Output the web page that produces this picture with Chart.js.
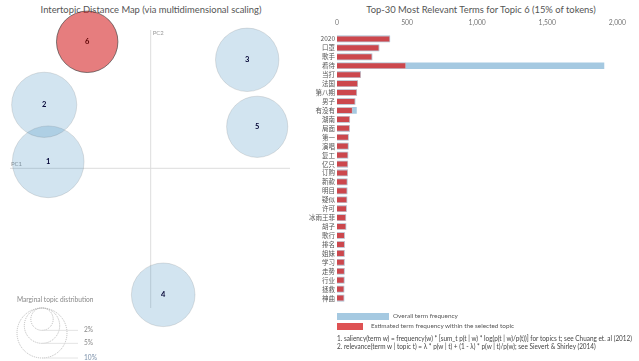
<!DOCTYPE html>
<html>
<head>
<meta charset="utf-8">
<script src="https://cdn.jsdelivr.net/npm/chart.js@4"></script>
<style>
  body { margin: 0; width: 639px; height: 361px; background: #fff; position: relative; overflow: hidden;
         font-family: Lato, "Noto Sans CJK SC", sans-serif; color: #555; }
  canvas { position: absolute; }
  #mdsCanvas { left: 0; top: 0; }
  #barCanvas { left: 290px; top: 0; }
  .title { position: absolute; top: 4px; font-size: 9.4px; color: #555; white-space: nowrap; transform: translateX(-50%); }
  .key { position: absolute; left: 337px; height: 7px; }
  .keytext { position: absolute; font-size: 6.4px; color: #555; white-space: nowrap; }
  .note { position: absolute; left: 337px; font-size: 6.6px; color: #444; white-space: nowrap; transform-origin: 0 0; }
</style>
</head>
<body>
<div class="title" style="left:151px">Intertopic Distance Map (via multidimensional scaling)</div>
<div class="title" style="left:481px">Top-30 Most Relevant Terms for Topic 6 (15% of tokens)</div>
<canvas id="mdsCanvas" width="320" height="361"></canvas>
<canvas id="barCanvas" width="349" height="312"></canvas>
<div class="key" style="top:313px;width:52px;background:rgba(31,119,180,0.4)"></div>
<div class="keytext" style="left:393px;top:312px">Overall term frequency</div>
<div class="key" style="top:323px;width:26px;background:rgba(214,39,40,0.8)"></div>
<div class="keytext" style="left:371px;top:322px">Estimated term frequency within the selected topic</div>
<div class="note" id="note1" style="top:334px">1. saliency(term w) = frequency(w) * [sum_t p(t | w) * log(p(t | w)/p(t))] for topics t; see Chuang et. al (2012)</div>
<div class="note" id="note2" style="top:342px">2. relevance(term w | topic t) = λ * p(w | t) + (1 - λ) * p(w | t)/p(w); see Sievert &amp; Shirley (2014)</div>
<script>
// topics on the intertopic distance map
var topicIds = ['1', '2', '3', '4', '5', '6'];
var topicPC1 = [-0.205, -0.213, 0.193, 0.025, 0.213, -0.127];
var topicPC2 = [0.013, 0.127, 0.217, -0.253, 0.083, 0.253];
var topicShare = [20.6, 17.0, 16.1, 16.2, 15.0, 15.1]; // % of tokens
var selectedTopic = '6';
var legendShares = [2, 5, 10];

// top-30 terms for topic 6
var terms = ['2020', '口罩', '歌手', '看待', '当打', '法国', '第八期', '男子', '有没有', '湖南',
  '局面', '第一', '演唱', '复工', '亿只', '订购', '新款', '明目', '疑似', '许可',
  '冰雨王菲', '胡子', '歌行', '排名', '姐妹', '学习', '走势', '行业', '拯救', '神曲'];
var overallFreq = [379, 302, 252, 1907, 171, 150, 143, 131, 141, 93,
  92, 84, 83, 80, 79, 78, 75, 74, 73, 70,
  65, 66, 56, 56, 55, 55, 55, 54, 52, 52];
var topicFreq = [379, 302, 252, 493, 171, 150, 143, 131, 112, 93,
  92, 84, 83, 80, 79, 78, 75, 74, 73, 70,
  65, 66, 56, 56, 55, 55, 55, 54, 52, 52];
var xTicks = [0, 500, 1000, 1500, 2000];

// squeeze the footnotes so line 1 is 295px wide, like the original
var note1 = document.getElementById('note1');
var squeeze = 295 / note1.getBoundingClientRect().width;
['note1', 'note2'].forEach(function(id) {
    document.getElementById(id).style.transform = 'scaleX(' + squeeze + ')';
});

// radius in px for a topic share, 10% -> 25px
function shareRadius(p) {
    return 25 * Math.sqrt(p / 10);
}

var mdsPlugin = {
    id: 'mdsDecor',
    beforeDatasetsDraw: function(chart) {
        var ctx = chart.ctx;
        var x = chart.scales.x, y = chart.scales.y;
        var x0 = x.getPixelForValue(0), y0 = y.getPixelForValue(0);
        ctx.save();
        ctx.strokeStyle = '#ddd';
        ctx.lineWidth = 1;
        ctx.beginPath();
        ctx.moveTo(x0, chart.chartArea.top);
        ctx.lineTo(x0, chart.chartArea.bottom);
        ctx.moveTo(chart.chartArea.left, y0);
        ctx.lineTo(chart.chartArea.right, y0);
        ctx.stroke();
        ctx.fillStyle = '#999';
        ctx.font = '6px Lato';
        ctx.textBaseline = 'top';
        ctx.fillText('PC2', x0 + 2, chart.chartArea.top + 0);
        ctx.textBaseline = 'bottom';
        ctx.fillText('PC1', chart.chartArea.left + 1, y0 - 1);
        ctx.restore();
    },
    afterDatasetsDraw: function(chart) {
        var ctx = chart.ctx;
        var meta = chart.getDatasetMeta(0);
        ctx.save();
        ctx.font = 'bold 7.5px Lato';
        ctx.textAlign = 'center';
        ctx.textBaseline = 'middle';
        meta.data.forEach(function(pt, i) {
            ctx.fillStyle = topicIds[i] === selectedTopic ? '#5a0000' : '#000033';
            ctx.fillText(topicIds[i], pt.x, pt.y);
        });

        // marginal topic distribution key
        var maxR = shareRadius(legendShares[legendShares.length - 1]);
        var cx = 42, top = 308;
        ctx.fillStyle = '#888';
        ctx.font = '6.6px Lato';
        ctx.textAlign = 'left';
        ctx.textBaseline = 'alphabetic';
        ctx.fillText('Marginal topic distribution', 17, 302);
        ctx.setLineDash([1, 1]);
        legendShares.forEach(function(p) {
            var r = shareRadius(p);
            ctx.strokeStyle = '#aaa';
            ctx.beginPath();
            ctx.arc(cx, top + r, r, 0, Math.PI * 2);
            ctx.stroke();
        });
        ctx.setLineDash([]);
        legendShares.forEach(function(p) {
            var r = shareRadius(p);
            var ly = top + 2 * r;
            ctx.strokeStyle = '#ddd';
            ctx.beginPath();
            ctx.moveTo(cx, ly);
            ctx.lineTo(cx + maxR + 11, ly);
            ctx.stroke();
            ctx.fillStyle = p === 10 ? '#7a8fa8' : '#888';
            ctx.textBaseline = 'middle';
            ctx.fillText(p + '%', cx + maxR + 17, ly);
        });
        ctx.restore();
    }
};

new Chart(document.getElementById('mdsCanvas'), {
    type: 'bubble',
    data: {
        datasets: [{
            data: topicIds.map(function(t, i) {
                return { x: topicPC1[i], y: topicPC2[i], r: shareRadius(topicShare[i]) };
            }),
            backgroundColor: topicIds.map(function(t) {
                return t === selectedTopic ? 'rgba(214,39,40,0.6)' : 'rgba(31,119,180,0.2)';
            }),
            borderColor: topicIds.map(function(t) {
                return t === selectedTopic ? 'rgba(60,60,60,0.8)' : 'rgba(80,80,80,0.2)';
            }),
            borderWidth: 0.8,
            clip: false
        }]
    },
    options: {
        responsive: false,
        animation: false,
        events: [],
        layout: { autoPadding: false, padding: { left: 10, top: 30, right: 30, bottom: 53 } },
        plugins: { legend: { display: false }, tooltip: { enabled: false } },
        scales: {
            x: { display: false, min: -0.2814, max: 0.2786 },
            y: { display: false, min: -0.2794, max: 0.2766 }
        }
    },
    plugins: [mdsPlugin]
});

new Chart(document.getElementById('barCanvas'), {
    type: 'bar',
    data: {
        labels: terms,
        datasets: [{
            label: 'Estimated term frequency within the selected topic',
            data: topicFreq,
            backgroundColor: 'rgba(214,39,40,0.8)',
            borderColor: 'rgba(210,190,195,0.9)',
            borderWidth: 0.8,
            order: 0
        }, {
            label: 'Overall term frequency',
            data: overallFreq,
            backgroundColor: 'rgba(31,119,180,0.4)',
            borderWidth: 0,
            order: 1
        }]
    },
    options: {
        indexAxis: 'y',
        responsive: false,
        animation: false,
        events: [],
        layout: { padding: { right: 21.7, bottom: 9.5 } },
        datasets: { bar: { grouped: false, barPercentage: 0.75, categoryPercentage: 1 } },
        plugins: { legend: { display: false }, tooltip: { enabled: false } },
        scales: {
            x: {
                position: 'top',
                min: 0, max: 2000,
                afterBuildTicks: function(scale) {
                    scale.ticks = xTicks.map(function(v) { return { value: v }; });
                },
                afterFit: function(scale) { scale.height = 34.5; },
                grid: { display: false, drawTicks: false },
                border: { display: false },
                ticks: {
                    padding: 8,
                    color: '#777',
                    font: { family: 'Lato', size: 6.8 },
                    callback: function(v) { return v.toLocaleString('en-US'); }
                }
            },
            y: {
                afterFit: function(scale) { scale.width = 47; },
                grid: { display: false, drawTicks: false },
                border: { display: false },
                ticks: {
                    padding: 2,
                    color: '#555',
                    autoSkip: false,
                    font: { family: '"Noto Sans CJK SC", Lato', size: 6.5 }
                }
            }
        }
    }
});
</script>
</body>
</html>
